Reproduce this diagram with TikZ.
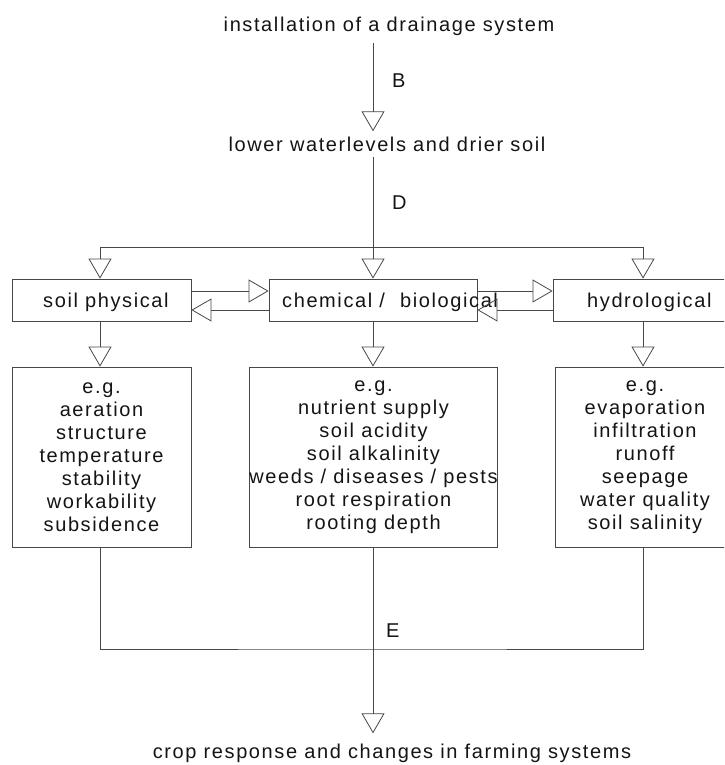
\documentclass[tikz,border=0pt]{standalone}
\usepackage{fontspec}
\setmainfont{Liberation Sans}[LetterSpace=8]
\usetikzlibrary{arrows.meta}
\begin{document}
\begin{tikzpicture}[x=1pt,y=-1pt,
  every node/.style={font=\fontsize{20}{23}\selectfont, text=black!92, inner sep=0pt},
  wire/.style={draw=black!72, line width=0.8pt},
  flow/.style={wire, -{Triangle[open,length=20pt,width=23pt,line width=0.8pt]}},
  box/.style={draw=black!72, line width=0.8pt, rectangle, inner sep=0pt},
  tag/.style={anchor=base west},
  title/.style={anchor=base}
]
\useasboundingbox (0,0) rectangle (724,765);
\clip (0,0) rectangle (724,765);

% headline steps
\node[title] (t1) at (389,32) {installation of  a drainage system};
\node[title] (t2) at (387,151) {lower waterlevels and drier soil};
\node[title] (t3) at (392,758) {crop response and changes in farming systems};

% routing points
\coordinate (hub) at (373,247);
\coordinate (lft) at (100,247);
\coordinate (rgt) at (643,247);
\coordinate (ups) at (0,291);
\coordinate (dns) at (0,310);
\coordinate (col) at (373,649);

% category boxes
\node[box, minimum width=179pt, minimum height=42pt] (sp) at (101.5,300) {};
\node[box, minimum width=208pt, minimum height=42pt] (cb) at (373,300) {};
\node[box, minimum width=180pt, minimum height=42pt] (hy) at (643,300) {};
\node[tag] (spt) at (43,307) {soil physical};
\node[tag] (cbt) at (282,307) {chemical / \hspace{8pt}biological};
\node[tag] (hyt) at (587,307) {hydrological};

% example boxes
\node[box, minimum width=179pt, minimum height=180pt, align=center] (ep) at (101.5,457)
  {e.g.\\aeration\\structure\\temperature\\stability\\workability\\subsidence};
\node[box, minimum width=245pt, minimum height=180pt, align=center] (ec) at (373.5,457)
  {e.g.\\nutrient supply\\soil acidity\\soil alkalinity\\weeds /  diseases /  pests\\root respiration\\rooting depth};
\node[box, minimum width=180pt, minimum height=180pt, align=center] (eh) at (645,457)
  {e.g.\\evaporation\\infiltration\\runoff\\seepage\\water quality\\soil salinity};

% edge letters
\node[tag] (lb) at (392,88) {B};
\node[tag] (ld) at (392,209) {D};
\node[tag] (le) at (386,637) {E};

% B: drainage to lower water levels
\draw[flow, shorten <=7pt, shorten >=5pt] (t1.south -| hub) -- (t2.north -| hub);
% D: split to the three categories
\draw[wire, shorten <=6pt] (t2.south -| hub) -- (hub);
\draw[wire] (lft) -- (rgt);
\draw[flow] (lft) -- (sp.north -| lft);
\draw[flow] (hub) -- (cb.north -| hub);
\draw[flow] (rgt) -- (hy.north -| rgt);

% interactions between categories
\draw[flow] (sp.east |- ups) -- (cb.west |- ups);
\draw[flow] (cb.west |- dns) -- (sp.east |- dns);
\draw[flow] (cb.east |- ups) -- (hy.west |- ups);
\draw[flow] (hy.west |- dns) -- (cb.east |- dns);

% categories to examples
\draw[flow] (sp.south -| lft) -- (ep.north -| lft);
\draw[flow] (cb.south -| hub) -- (ec.north -| hub);
\draw[flow] (hy.south -| rgt) -- (eh.north -| rgt);

% E: examples combine into crop response
\draw[wire] (ep.south -| lft) |- (col) -| (eh.south -| rgt);
\draw[flow, shorten >=10pt] (ec.south -| col) -- (t3.north -| col);
\end{tikzpicture}
\end{document}
